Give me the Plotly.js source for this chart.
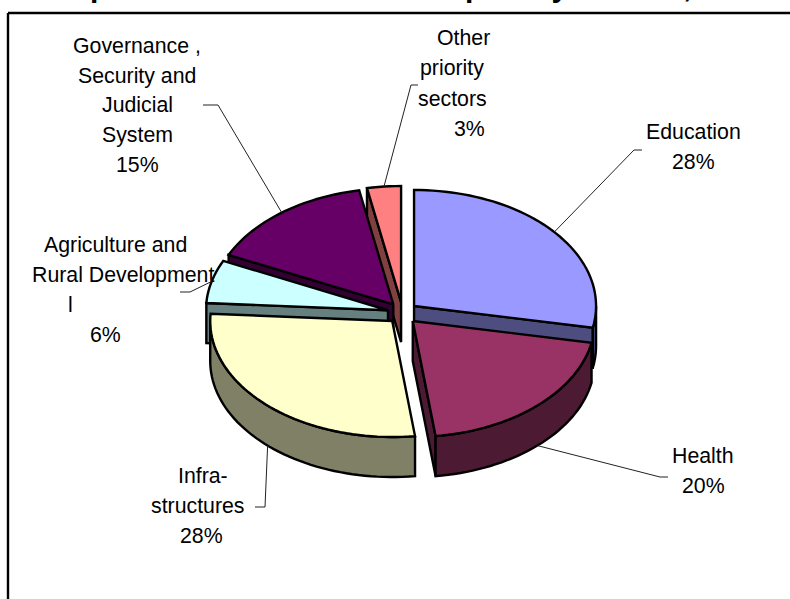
<!DOCTYPE html>
<html>
<head>
<meta charset="utf-8">
<script src="https://cdn.plot.ly/plotly-3.0.1.min.js"></script>
<style>html,body{margin:0;padding:0;background:#fff}#chart{width:790px;height:599px}</style>
</head>
<body>
<div id="chart"></div>
<script>
// Sector shares, clockwise from twelve o'clock
const sectors = ['Education', 'Health', 'Infrastructures', 'Agriculture and Rural Development', 'Governance, Security and Judicial System', 'Other priority sectors'];
const shares = [28, 20, 28, 6, 15, 3];
const topColors = ['#9999FF', '#993366', '#FFFFCC', '#CCFFFF', '#660066', '#FF8080'];
const wallColors = ['#4D4D80', '#4D1A33', '#808066', '#668080', '#330033', '#804040'];

// Label lines above each percentage
const labelLines = [
  ['Education'],
  ['Health'],
  ['Infra-', 'structures'],
  ['Agriculture and', 'Rural Development', 'l'],
  ['Governance ,', 'Security and', 'Judicial', 'System'],
  ['Other', 'priority', 'sectors']
];
const labelX = [
  [693, 693],
  [703, 703],
  [203, 198, 201],
  [115, 123, 70, 105],
  [137, 137, 137, 137, 137],
  [463, 452, 452, 469]
];
const labelY = [
  [132, 162],
  [456, 486],
  [476, 506, 536],
  [245, 275, 305, 335],
  [46, 76, 105, 135, 165],
  [38, 68, 99, 129]
];
// Leader line bend and end, one per sector
const leaderBendX = [634, 660, 265, 190, 218, 411];
const leaderBendY = [150, 477, 507, 292, 105, 85];
const leaderEndX = [642, 668, 255, 180, 203, 418];
const leaderEndY = [150, 477, 507, 292, 105, 85];

// Projection of the tilted pie on the page-sized axes
const cx = 402.5, cy = 313, rx = 182, ry = 116, depth = 40, explodeX = 15, explodeY = 11;
const rad = a => a * Math.PI / 180;

const total = shares.reduce((s, v) => s + v, 0);
let running = 0;
const slices = shares.map((v, i) => {
  const start = running / total * 360;
  running += v;
  const end = running / total * 360;
  const mid = (start + end) / 2;
  return {
    i, start, end, mid,
    ax: cx + explodeX * Math.sin(rad(mid)),
    ay: cy - explodeY * Math.cos(rad(mid))
  };
});
const rimX = (s, a) => s.ax + rx * Math.sin(rad(a));
const rimY = (s, a) => s.ay - ry * Math.cos(rad(a));

function arc(s, from, to, drop) {
  const xs = [], ys = [];
  const n = Math.max(2, Math.ceil((to - from) / 2));
  for (let k = 0; k <= n; k++) {
    const a = from + (to - from) * k / n;
    xs.push(rimX(s, a));
    ys.push(rimY(s, a) + drop);
  }
  return [xs, ys];
}

function polygon(name, xs, ys, color) {
  return {
    type: 'scatter', mode: 'lines', name, x: xs, y: ys,
    fill: 'toself', fillcolor: color,
    line: {color: '#000', width: 2.4, simplify: false},
    hoverinfo: 'skip', showlegend: false
  };
}

function radialWall(s, a) {
  const x = rimX(s, a), y = rimY(s, a);
  return polygon(sectors[s.i] + ' wall', [s.ax, x, x, s.ax, s.ax], [s.ay, y, y + depth, s.ay + depth, s.ay], wallColors[s.i]);
}

function sliceTraces(s) {
  const out = [];
  // Walls facing the viewer, then the top surface over them
  if (Math.sin(rad(s.start)) < -1e-6) out.push(radialWall(s, s.start));
  if (Math.sin(rad(s.end)) > 1e-6) out.push(radialWall(s, s.end));
  const from = Math.max(s.start, 90), to = Math.min(s.end, 270);
  if (to > from) {
    const [tx, ty] = arc(s, from, to, 0);
    const [bx, by] = arc(s, from, to, depth);
    out.push(polygon(sectors[s.i] + ' rim', tx.concat(bx.reverse(), tx[0]), ty.concat(by.reverse(), ty[0]), wallColors[s.i]));
  }
  const [ux, uy] = arc(s, s.start, s.end, 0);
  out.push(polygon(sectors[s.i], [s.ax, ...ux, s.ax], [s.ay, ...uy, s.ay], topColors[s.i]));
  return out;
}

// Back slices first so the nearer ones overlap them
const paintOrder = [5, 4, 3, 0, 1, 2];
const traces = paintOrder.flatMap(i => sliceTraces(slices[i]));

// Leader lines start on the rim at each slice's middle angle
slices.forEach(s => {
  const front = Math.cos(rad(s.mid)) < 0;
  traces.push({
    type: 'scatter', mode: 'lines',
    x: [rimX(s, s.mid), leaderBendX[s.i], leaderEndX[s.i]],
    y: [rimY(s, s.mid) + (front ? depth : 0), leaderBendY[s.i], leaderEndY[s.i]],
    line: {color: '#222', width: 1},
    hoverinfo: 'skip', showlegend: false
  });
});

const annotations = [];
slices.forEach(s => {
  const lines = labelLines[s.i].concat(shares[s.i] + '%');
  lines.forEach((text, k) => annotations.push({
    text, x: labelX[s.i][k], y: labelY[s.i][k], xref: 'x', yref: 'y',
    xanchor: 'center', yanchor: 'middle', showarrow: false
  }));
});

Plotly.newPlot('chart', traces, {
  width: 790, height: 599,
  margin: {l: 0, r: 0, t: 0, b: 0},
  paper_bgcolor: '#fff', plot_bgcolor: '#fff',
  font: {family: '"Liberation Sans", Arial, sans-serif', size: 21.3, color: '#000'},
  title: {
    text: 'Composition of the total aid to priority sectors, 2007',
    font: {family: '"Liberation Sans", Arial, sans-serif', size: 30, color: '#000', weight: 'bold'},
    x: 0.5, xanchor: 'center', y: 1, yanchor: 'bottom', pad: {b: 3}
  },
  xaxis: {range: [0, 790], visible: false, fixedrange: true},
  yaxis: {range: [599, 0], visible: false, fixedrange: true},
  shapes: [
    {type: 'line', xref: 'x', yref: 'y', x0: 8, x1: 8, y0: 13, y1: 599, line: {color: '#000', width: 2.4}},
    {type: 'line', xref: 'x', yref: 'y', x0: 8, x1: 790, y0: 13, y1: 13, line: {color: '#000', width: 2.4}}
  ],
  annotations
}, {displayModeBar: false, staticPlot: true});
</script>
</body>
</html>
